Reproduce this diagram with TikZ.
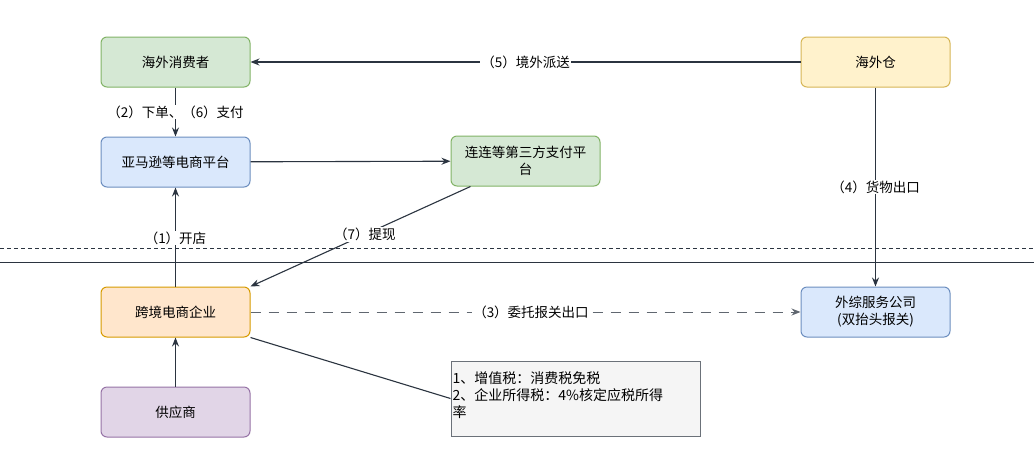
\documentclass[tikz,border=0pt]{standalone}
\usepackage{fontspec}
\setmainfont{Noto Sans CJK SC}
\usetikzlibrary{arrows.meta}
\definecolor{gf}{HTML}{D5E8D4}\definecolor{gs}{HTML}{82B366}
\definecolor{bf}{HTML}{DAE8FC}\definecolor{bs}{HTML}{6C8EBF}
\definecolor{yf}{HTML}{FFF2CC}\definecolor{ys}{HTML}{D6B656}
\definecolor{of}{HTML}{FFE6CC}\definecolor{os}{HTML}{D79B00}
\definecolor{pf}{HTML}{E1D5E7}\definecolor{ps}{HTML}{9673A6}
\definecolor{ln}{HTML}{2B3440}
\begin{document}
\begin{tikzpicture}[x=1pt,y=-1pt,
 box/.style={rounded corners=6pt,minimum width=149pt,minimum height=50pt,font=\fontsize{13.5}{17}\selectfont,align=center,line width=1pt},
 arr/.style={draw=ln,line width=1.1pt,-{Stealth[length=9pt,width=7pt]}},
 lbl/.style={fill=white,font=\fontsize{13.5}{17}\selectfont,inner sep=1pt}]
\useasboundingbox (0,0) rectangle (1034,475);
\fill[white] (0,0) rectangle (1034,475);
\draw[dash pattern=on 4pt off 3pt,line width=0.9pt,ln] (0,248) -- (1034,248);
\draw[line width=0.9pt,ln] (0,262) -- (1034,262);
\node[box,fill=gf,draw=gs] (cons) at (175.5,62) {海外消费者};
\node[box,fill=bf,draw=bs] (amz) at (175.5,162) {亚马逊等电商平台};
\node[box,fill=gf,draw=gs] (pay) at (525.5,161) {连连等第三方支付平\\台};
\node[box,fill=yf,draw=ys] (wh) at (875.5,62) {海外仓};
\node[box,fill=of,draw=os] (ent) at (175.5,312) {跨境电商企业};
\node[box,fill=bf,draw=bs] (svc) at (875.5,312) {外综服务公司\\(双抬头报关)};
\node[box,fill=pf,draw=ps] (sup) at (175.5,412) {供应商};
\node[draw=ln!70,fill=black!4,minimum width=249pt,minimum height=75pt,inner sep=0pt,line width=1pt] (note) at (575.5,398.5) {};
\node[anchor=north west,align=left,inner sep=0pt,font=\fontsize{14}{17}\selectfont] at ([xshift=2pt,yshift=-11pt]note.north west) {1、增值税：消费税免税\\2、企业所得税：4\%核定应税所得\\率};
\draw[arr] (wh) -- node[lbl]{（5）境外派送} (cons);
\draw[arr] (cons) -- node[lbl]{（2）下单、（6）支付} (amz);
\draw[arr] (amz) -- (pay);
\draw[arr] (wh) -- node[lbl,pos=0.5]{（4）货物出口} (svc);
\draw[arr] (ent) -- node[lbl,pos=0.49]{（1）开店} (amz);
\draw[arr] (pay.south west)++(20,0) coordinate (p7) -- node[lbl,pos=0.48]{（7）提现} (ent.north east);
\draw[arr,draw=ln!75,line width=1pt,dash pattern=on 10pt off 8pt] (ent) -- node[lbl,pos=0.51]{（3）委托报关出口} (svc);
\draw[arr] (sup) -- (ent);
\draw[draw=ln,line width=1.1pt] (ent.south east) -- (note.west);
\end{tikzpicture}
\end{document}
